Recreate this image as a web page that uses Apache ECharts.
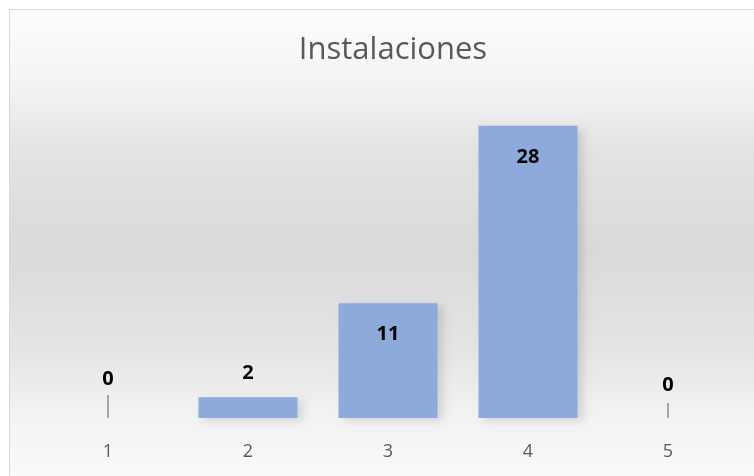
<!DOCTYPE html>
<html>
<head>
<meta charset="utf-8">
<script src="https://cdn.jsdelivr.net/npm/echarts@6/dist/echarts.min.js"></script>
<style>
html, body { margin: 0; padding: 0; background: #ffffff; }
#chart { width: 754px; height: 476px; }
</style>
</head>
<body>
<div id="chart"></div>
<script>
var titleText = 'Instalaciones';
var categories = ['1', '2', '3', '4', '5'];
var values = [0, 2, 11, 28, 0];

var myChart = echarts.init(document.getElementById('chart'));

// etiquetas como en Excel: dentro arriba si la barra es alta, fuera si es baja
var barData = values.map(function (v, i) {
    var item = { value: v };
    if (v >= 5) {
        item.label = { position: 'insideTop', distance: 21 };
    } else if (v === 0) {
        item.label = {
            position: 'top',
            distance: 0,
            formatter: '{v|{c}}\n{l| }',
            rich: {
                v: { fontSize: 20, fontWeight: 'bold', color: '#000', fontFamily: 'Open Sans', height: i === 0 ? 32 : 36, verticalAlign: 'top' },
                l: { width: 1.5, height: i === 0 ? 23 : 15, backgroundColor: '#8c8c8c' }
            }
        };
    } else {
        item.label = { position: 'top', distance: 14 };
    }
    return item;
});

var option = {
    backgroundColor: '#ffffff',
    graphic: [{
        type: 'rect',
        shape: { x: 9.5, y: 9.5, width: 760, height: 480 },
        style: {
            fill: {
                type: 'linear', x: 0, y: 0, x2: 0, y2: 1,
                colorStops: [
                    { offset: 0, color: '#fdfdfd' },
                    { offset: 0.15, color: '#f4f4f4' },
                    { offset: 0.3, color: '#e3e3e3' },
                    { offset: 0.5, color: '#dadada' },
                    { offset: 0.7, color: '#e4e4e4' },
                    { offset: 0.85, color: '#f3f3f3' },
                    { offset: 1, color: '#fbfbfb' }
                ]
            },
            stroke: '#d9d9d9',
            lineWidth: 1
        },
        z: -10
    }],
    title: {
        text: titleText,
        left: 388,
        top: 30,
        textAlign: 'center',
        textStyle: {
            fontWeight: 'normal',
            color: '#595959',
            fontSize: 31,
            fontFamily: 'Open Sans'
        }
    },
    grid: { left: 38, right: 16, top: 105, bottom: 58 },
    xAxis: {
        type: 'category',
        data: categories,
        axisLine: { show: false },
        axisTick: { show: false },
        axisLabel: { color: '#595959', fontSize: 18, margin: 25, fontFamily: 'Open Sans' }
    },
    yAxis: {
        type: 'value',
        min: 0,
        max: 30,
        show: false,
        splitLine: { show: false }
    },
    series: [{
        type: 'bar',
        data: barData,
        barWidth: 99,
        itemStyle: {
            color: '#8eaadb',
            shadowColor: 'rgba(0,0,0,0.12)',
            shadowBlur: 8,
            shadowOffsetX: 5,
            shadowOffsetY: 3
        },
        label: {
            show: true,
            color: '#000000',
            fontSize: 20,
            fontWeight: 'bold',
            fontFamily: 'Open Sans'
        }
    }]
};
myChart.setOption(option);
</script>
</body>
</html>
